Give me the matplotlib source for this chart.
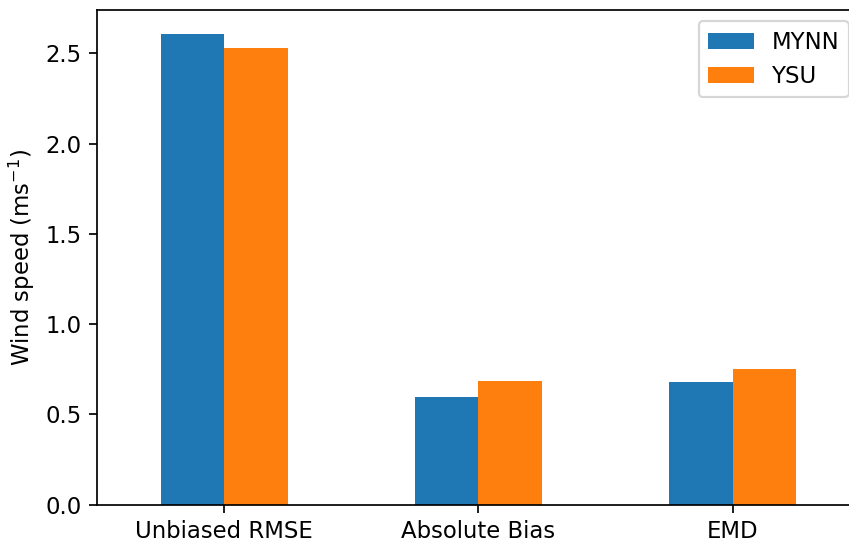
import matplotlib
matplotlib.use("Agg")
import matplotlib.pyplot as plt
import numpy as np

categories = ["Unbiased RMSE", "Absolute Bias", "EMD"]
mynn = [2.61, 0.595, 0.678]
ysu = [2.528, 0.683, 0.751]
series_names = ["MYNN", "YSU"]

plt.rcParams["font.size"] = 10.6

dpi = 155
fig = plt.figure(figsize=(849 / dpi, 545 / dpi), dpi=dpi)
ax = fig.add_axes([97 / 849, 1 - 504.5 / 545, (860 - 97) / 849, (504.5 - 10) / 545])

x = np.arange(len(categories))
w = 0.25
ax.bar(x - w / 2, mynn, w, color="#1f77b4", label=series_names[0])
ax.bar(x + w / 2, ysu, w, color="#ff7f0e", label=series_names[1])
ax.set_xticks(x)
ax.set_xticklabels(categories)
ax.set_xlim(-0.5, 2.5)
ax.set_ylim(0, max(max(mynn), max(ysu)) * 1.05)
ax.set_yticks([0.0, 0.5, 1.0, 1.5, 2.0, 2.5])
ax.set_ylabel("Wind speed (ms$^{-1}$)")
ax.spines["right"].set_visible(False)
ax.legend(loc="upper right")

fig.savefig("out.png", dpi=dpi)
